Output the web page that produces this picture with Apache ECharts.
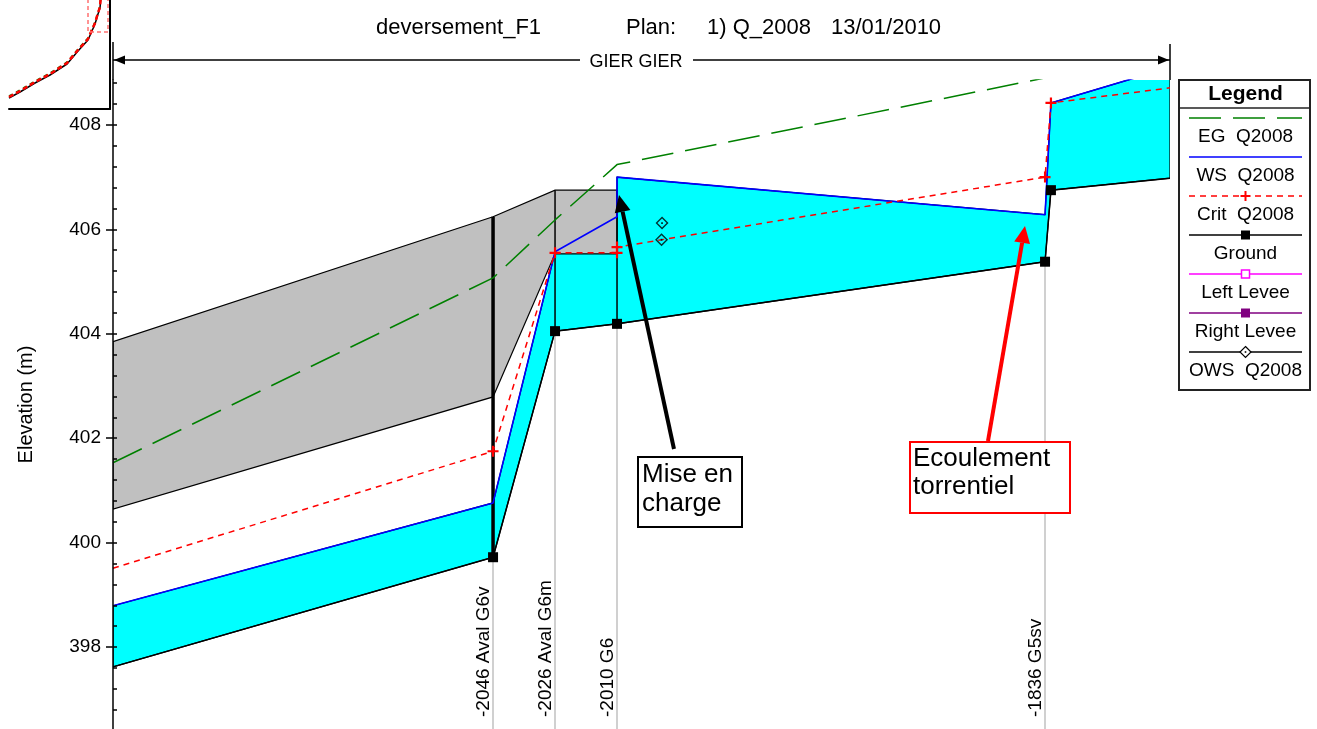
<!DOCTYPE html>
<html>
<head>
<meta charset="utf-8">
<script src="https://cdn.jsdelivr.net/npm/echarts@6/dist/echarts.min.js"></script>
<style>
  html, body { margin: 0; padding: 0; background: #fff; }
  #chart { width: 1317px; height: 729px; }
</style>
</head>
<body>
<div id="chart"></div>
<script>
// ---- Profile data (distance along the main channel in m, elevation in m) ----

// Labelled river stations
const stationNames = ['-2046 Aval G6v', '-2026 Aval G6m', '-2010 G6', '-1836 G5sv'];
const stationDist = [154.5, 179.7, 204.9, 378.9];
const stationGround = [399.72, 404.05, 404.19, 405.38];

// Channel invert
const groundDist = [0, 154.5, 179.7, 204.9, 378.9, 381.3, 429.7];
const groundElev = [397.62, 399.72, 404.05, 404.19, 405.38, 406.75, 406.98];

// Water surface, Q2008
const wsDist = [0, 154.5, 179.7, 204.9, 204.9, 378.9, 381.3, 429.7];
const wsElev = [398.79, 400.76, 405.57, 406.24, 407.00, 406.28, 408.42, 409.10];

// Critical depth, Q2008
const critDist = [0, 154.5, 179.7, 204.9, 204.9, 378.9, 381.3, 429.7];
const critElev = [399.51, 401.75, 405.55, 405.55, 405.66, 407.00, 408.42, 408.71];

// Energy grade line, Q2008
const egDist = [0, 154.5, 179.7, 204.9, 378.9, 381.3, 429.7];
const egElev = [401.53, 405.07, 406.18, 407.24, 408.90, 409.20, 409.40];

// Structure deck (top of road / low chord)
const deckDist = [0, 154.5, 179.7, 204.9];
const deckTop = [403.85, 406.24, 406.75, 406.75];
const deckLow = [400.64, 402.79, 405.53, 405.53];

// Observed water surface
const owsDist = [223.2, 223.0];
const owsElev = [406.12, 405.80];

// Elevation tick labels
const yTickLabels = [398, 400, 402, 404, 406, 408];

// Overview of the whole reach (thumbnail, relative units)
const overviewDist   = [0, 11, 26, 41, 58, 69, 79, 86, 89, 91, 92];
const overviewGround = [11, 17, 26, 34, 45, 58, 69, 85, 95, 101, 114];
const overviewCrit   = [12, 18, 27, 35, 46, 59, 70, 86, 96, 102, 115];
const overviewEG     = [13, 19, 28, 36, 47, 60, 71, 87, 97, 103, 116];

// Legend entries
const legendLabels = ['EG  Q2008', 'WS  Q2008', 'Crit  Q2008', 'Ground', 'Left Levee', 'Right Levee', 'OWS  Q2008'];

// ---- Chart setup ----
const FONT = '"Liberation Sans", Arial, sans-serif';
const X_MIN = 0, X_MAX = 429.7;
const Y_MIN = 396.43, Y_MAX = 408.86;

const minorTicks = [];
for (let v = 396.8; v <= 408.81; v += 0.4) minorTicks.push(+v.toFixed(1));

const pairs = (xs, ys) => xs.map((x, i) => [x, ys[i]]);
const PLUS = 'path://M4,0H6V4H10V6H6V10H4V6H0V4H4Z';
const DIAMOND = 'path://M5,0L10,5L5,10L0,5Z M5,1.5L1.5,5L5,8.5L8.5,5Z M4.3,4.3L5.7,4.3L5.7,5.7L4.3,5.7Z';

function withEdgeSymbols(xs, ys, symbol) {
  return xs.map((x, i) => ({
    value: [x, ys[i]],
    symbol: (x <= X_MIN || x >= X_MAX) ? 'none' : symbol
  }));
}

function polygonSeries(points, style, z) {
  return {
    type: 'custom', coordinateSystem: 'cartesian2d', xAxisIndex: 0, yAxisIndex: 0,
    clip: true, silent: true, z: z, data: [[X_MIN, Y_MIN]],
    renderItem: function (params, api) {
      return { type: 'polygon', shape: { points: points.map(p => api.coord(p)) }, style: style };
    }
  };
}

const wetPolygon = pairs(groundDist, groundElev).concat(pairs(wsDist, wsElev).reverse());
const deckPolygon = pairs(deckDist, deckTop).concat(pairs(deckDist, deckLow).reverse());

// vertical section lines through the structure (deck top down to invert)
const structureSeries = {
  type: 'custom', coordinateSystem: 'cartesian2d', xAxisIndex: 0, yAxisIndex: 0,
  clip: true, silent: true, z: 3, data: [[X_MIN, Y_MIN]],
  renderItem: function (params, api) {
    const children = [];
    for (let i = 1; i < deckDist.length; i++) {
      const d = deckDist[i];
      const g = groundElev[groundDist.indexOf(d)];
      const a = api.coord([d, deckTop[i]]);
      const b = api.coord([d, g]);
      children.push({
        type: 'line', shape: { x1: a[0], y1: a[1], x2: b[0], y2: b[1] },
        style: { stroke: '#000', lineWidth: i === 1 ? 3.5 : 1.5 }
      });
    }
    return { type: 'group', children: children };
  }
};

// ---- Decorations: title, reach bar, legend, notes ----
const graphics = [];
const txt = (text, x, y, size, extra) => ({
  type: 'text', x: x, y: y, z: 100,
  style: Object.assign({ text: text, fill: '#000', fontSize: size, fontFamily: FONT,
    align: 'left', verticalAlign: 'middle' }, extra || {})
});

[['deversement_F1', 376], ['Plan:', 626], ['1) Q_2008', 707], ['13/01/2010', 831]]
  .forEach(([t, x]) => graphics.push(txt(t, x, 28, 22)));

// reach extent bar
const bar = { stroke: '#000', lineWidth: 1.5 };
graphics.push(
  { type: 'line', z: 100, shape: { x1: 113, y1: 60, x2: 580, y2: 60 }, style: bar },
  { type: 'line', z: 100, shape: { x1: 693, y1: 60, x2: 1170, y2: 60 }, style: bar },
  { type: 'line', z: 100, shape: { x1: 113, y1: 42, x2: 113, y2: 80 }, style: bar },
  { type: 'line', z: 100, shape: { x1: 1170, y1: 44, x2: 1170, y2: 80 }, style: bar },
  { type: 'polygon', z: 100, shape: { points: [[114, 60], [125, 55.5], [125, 64.5]] }, style: { fill: '#000' } },
  { type: 'polygon', z: 100, shape: { points: [[1169, 60], [1158, 55.5], [1158, 64.5]] }, style: { fill: '#000' } },
  txt('GIER GIER', 636, 62, 18, { align: 'center' })
);

// thumbnail window marker
graphics.push({ type: 'rect', z: 100, shape: { x: 88, y: -4, width: 20, height: 36 },
  style: { fill: 'none', stroke: '#ff7070', lineWidth: 1.5, lineDash: [4, 3] } });

// legend box
const LX0 = 1189, LX1 = 1302, LXC = 1245.5;
graphics.push(
  { type: 'rect', z: 100, shape: { x: 1179, y: 80, width: 131, height: 310 },
    style: { fill: '#fff', stroke: '#222', lineWidth: 2 } },
  { type: 'line', z: 101, shape: { x1: 1179, y1: 108, x2: 1310, y2: 108 }, style: { stroke: '#222', lineWidth: 1.5 } },
  txt('Legend', LXC, 94, 21, { align: 'center', fontWeight: 'bold' })
);
const legendStyles = [
  { color: '#008000', dash: [32, 12] },
  { color: '#0000ff' },
  { color: '#ff0000', dash: [6, 5], marker: 'plus' },
  { color: '#000000', marker: 'square' },
  { color: '#ff00ff', marker: 'openSquare' },
  { color: '#800080', marker: 'square' },
  { color: '#000000', marker: 'diamond' }
];
legendLabels.forEach((label, i) => {
  const ly = 118 + i * 39;
  const s = legendStyles[i];
  graphics.push({ type: 'line', z: 101, shape: { x1: LX0, y1: ly, x2: LX1, y2: ly },
    style: { stroke: s.color, lineWidth: 1.5, lineDash: s.dash || null } });
  if (s.marker === 'plus') {
    graphics.push(
      { type: 'line', z: 102, shape: { x1: LXC - 5, y1: ly, x2: LXC + 5, y2: ly }, style: { stroke: s.color, lineWidth: 2 } },
      { type: 'line', z: 102, shape: { x1: LXC, y1: ly - 5, x2: LXC, y2: ly + 5 }, style: { stroke: s.color, lineWidth: 2 } });
  } else if (s.marker === 'square') {
    graphics.push({ type: 'rect', z: 102, shape: { x: LXC - 4.5, y: ly - 4.5, width: 9, height: 9 }, style: { fill: s.color } });
  } else if (s.marker === 'openSquare') {
    graphics.push({ type: 'rect', z: 102, shape: { x: LXC - 4, y: ly - 4, width: 8, height: 8 },
      style: { fill: '#fff', stroke: s.color, lineWidth: 1.5 } });
  } else if (s.marker === 'diamond') {
    graphics.push(
      { type: 'polygon', z: 102, shape: { points: [[LXC, ly - 5.5], [LXC + 5.5, ly], [LXC, ly + 5.5], [LXC - 5.5, ly]] },
        style: { fill: '#fff', stroke: '#000', lineWidth: 1.2 } },
      { type: 'rect', z: 103, shape: { x: LXC - 0.8, y: ly - 0.8, width: 1.6, height: 1.6 }, style: { fill: '#000' } });
  }
  graphics.push(txt(label, LXC, ly + 19, 19, { align: 'center' }));
});

// notes with arrows
function arrow(tail, tip, color) {
  const dx = tip[0] - tail[0], dy = tip[1] - tail[1];
  const len = Math.hypot(dx, dy), ux = dx / len, uy = dy / len;
  const hl = 17, hw = 8;
  const bx = tip[0] - ux * hl, by = tip[1] - uy * hl;
  return [
    { type: 'line', z: 100, shape: { x1: tail[0], y1: tail[1], x2: bx, y2: by }, style: { stroke: color, lineWidth: 4 } },
    { type: 'polygon', z: 100, shape: { points: [tip, [bx - uy * hw, by + ux * hw], [bx + uy * hw, by - ux * hw]] },
      style: { fill: color } }
  ];
}
graphics.push(...arrow([674, 449], [619, 195], '#000'));
graphics.push(...arrow([988, 441], [1025, 226], '#ff0000'));
graphics.push(
  { type: 'rect', z: 100, shape: { x: 638, y: 457, width: 104, height: 70 }, style: { fill: '#fff', stroke: '#000', lineWidth: 2 } },
  txt('Mise en\ncharge', 642, 460, 26, { verticalAlign: 'top', lineHeight: 29 }),
  { type: 'rect', z: 100, shape: { x: 910, y: 442, width: 160, height: 71 }, style: { fill: '#fff', stroke: '#ff0000', lineWidth: 2 } },
  txt('Ecoulement\ntorrentiel', 913, 445, 26, { verticalAlign: 'top', lineHeight: 28 })
);

// ---- Option ----
const option = {
  animation: false,
  backgroundColor: '#fff',
  textStyle: { fontFamily: FONT },
  grid: [
    { left: 113, right: 147, top: 80, bottom: 0, containLabel: false, outerBoundsMode: 'none' },
    { left: 9, top: 0, width: 101, height: 109, containLabel: false, outerBoundsMode: 'none' }
  ],
  xAxis: [
    { type: 'value', gridIndex: 0, min: X_MIN, max: X_MAX, show: false },
    { type: 'value', gridIndex: 1, min: 0, max: 101, position: 'bottom',
      axisLine: { show: true, onZero: false, lineStyle: { color: '#000', width: 2 } },
      axisTick: { show: false }, axisLabel: { show: false }, splitLine: { show: false } }
  ],
  yAxis: [
    { type: 'value', gridIndex: 0, min: Y_MIN, max: Y_MAX, z: 10,
      axisLine: { show: true, onZero: false, lineStyle: { color: '#000', width: 1.5 } },
      axisTick: { show: true, length: 7, customValues: yTickLabels, lineStyle: { color: '#000', width: 1.5 } },
      axisLabel: { show: true, customValues: yTickLabels, margin: 12, fontSize: 19, color: '#000', fontFamily: FONT },
      splitLine: { show: false },
      name: 'Elevation (m)', nameLocation: 'middle', nameGap: 77, nameRotate: 90,
      nameTextStyle: { fontSize: 20, color: '#000', fontFamily: FONT } },
    { type: 'value', gridIndex: 0, min: Y_MIN, max: Y_MAX, z: 10,
      axisLine: { show: false },
      axisTick: { show: true, length: 4, customValues: minorTicks, lineStyle: { color: '#000', width: 1.5 } },
      axisLabel: { show: false }, splitLine: { show: false } },
    { type: 'value', gridIndex: 1, min: 0, max: 109, position: 'right',
      axisLine: { show: true, onZero: false, lineStyle: { color: '#000', width: 2 } },
      axisTick: { show: false }, axisLabel: { show: false }, splitLine: { show: false } }
  ],
  graphic: graphics,
  series: [
    polygonSeries(wetPolygon, { fill: '#00ffff', stroke: '#000', lineWidth: 1.2 }, 1),
    polygonSeries(deckPolygon, { fill: '#c0c0c0', stroke: '#000', lineWidth: 1.2 }, 2),
    structureSeries,
    {
      name: 'EG  Q2008', type: 'line', xAxisIndex: 0, yAxisIndex: 0, z: 4, silent: true,
      data: pairs(egDist, egElev), showSymbol: false,
      lineStyle: { color: '#008000', width: 1.5, type: [32, 12] }
    },
    {
      name: 'WS  Q2008', type: 'line', xAxisIndex: 0, yAxisIndex: 0, z: 5, silent: true,
      data: pairs(wsDist, wsElev), showSymbol: false,
      lineStyle: { color: '#0000ff', width: 1.6 }
    },
    {
      name: 'Crit  Q2008', type: 'line', xAxisIndex: 0, yAxisIndex: 0, z: 6, silent: true,
      data: withEdgeSymbols(critDist, critElev, PLUS), showAllSymbol: true, symbolSize: 11,
      itemStyle: { color: '#ff0000' },
      lineStyle: { color: '#ff0000', width: 1.5, type: [6, 5] }
    },
    {
      name: 'Ground', type: 'line', xAxisIndex: 0, yAxisIndex: 0, z: 7, silent: true,
      data: withEdgeSymbols(groundDist, groundElev, 'rect'), showAllSymbol: true, symbolSize: 10,
      itemStyle: { color: '#000' },
      lineStyle: { color: '#000', width: 1.5 },
      markLine: {
        silent: true, symbol: ['none', 'none'], animation: false,
        lineStyle: { color: '#c0c0c0', width: 1.5, type: 'solid' },
        emphasis: { disabled: true },
        label: { show: true, position: 'insideStartTop', formatter: '{b}', distance: [12, 0],
          fontSize: 19, color: '#000', fontFamily: FONT },
        data: stationNames.map((n, i) => [
          { name: n, coord: [stationDist[i], Y_MIN] },
          { coord: [stationDist[i], stationGround[i]] }
        ])
      }
    },
    {
      name: 'OWS  Q2008', type: 'scatter', xAxisIndex: 0, yAxisIndex: 0, z: 8, silent: true,
      data: pairs(owsDist, owsElev), symbol: DIAMOND, symbolSize: 13,
      itemStyle: { color: '#000' }
    },
    // thumbnail of the whole reach
    {
      type: 'line', xAxisIndex: 1, yAxisIndex: 2, silent: true, showSymbol: false, clip: true,
      data: pairs(overviewDist, overviewGround), lineStyle: { color: '#000', width: 1.5 }
    },
    {
      type: 'line', xAxisIndex: 1, yAxisIndex: 2, silent: true, showSymbol: false, clip: true,
      data: pairs(overviewDist, overviewEG), lineStyle: { color: '#008000', width: 1.5, type: [4, 4] }
    },
    {
      type: 'line', xAxisIndex: 1, yAxisIndex: 2, silent: true, showSymbol: false, clip: true,
      data: pairs(overviewDist, overviewCrit), lineStyle: { color: '#ff0000', width: 2.5, type: [5, 3] }
    }
  ]
};

const chart = echarts.init(document.getElementById('chart'));
chart.setOption(option);
</script>
</body>
</html>
